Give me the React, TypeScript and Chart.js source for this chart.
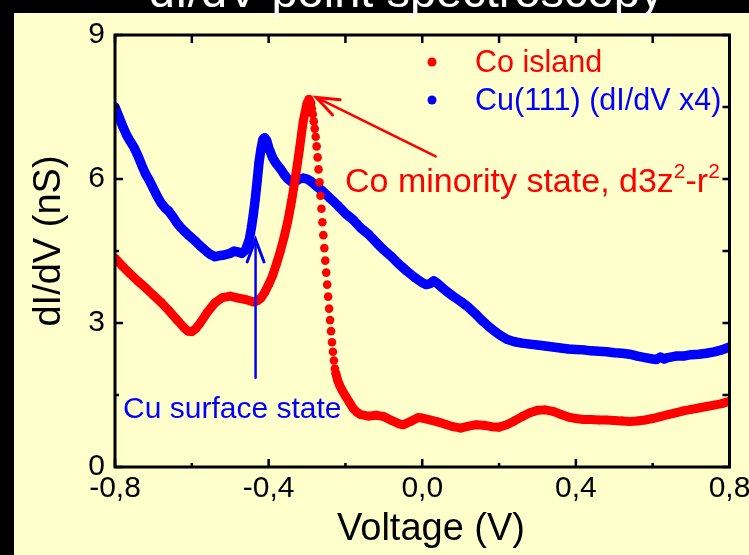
import React, { useEffect, useRef } from "react";
import { Chart, registerables } from "chart.js";

Chart.register(...registerables);

// ---------- data ----------
const coLabel = "Co island";
const coVoltage = [
  -0.80, -0.78, -0.76, -0.74, -0.72, -0.70, -0.68, -0.66, -0.64, -0.62, -0.61, -0.60, -0.59, -0.58, -0.56,
  -0.54, -0.52, -0.50, -0.48, -0.46, -0.44, -0.43, -0.42, -0.41, -0.40, -0.39, -0.38, -0.37, -0.36, -0.35,
  -0.34, -0.33, -0.32, -0.31, -0.30, -0.295, -0.29,
  -0.2875, -0.285, -0.2825, -0.28, -0.2775, -0.275, -0.2725, -0.27, -0.2675, -0.265, -0.2625, -0.26, -0.2575,
  -0.255, -0.2525, -0.25, -0.2475, -0.245, -0.2425, -0.24, -0.2375, -0.235, -0.2325, -0.23, -0.2275, -0.225,
  -0.22, -0.215, -0.21, -0.20, -0.19, -0.18, -0.17, -0.16, -0.14, -0.12, -0.10, -0.08, -0.06, -0.05, -0.03,
  -0.01, 0.00, 0.02, 0.04, 0.06, 0.08, 0.10, 0.12, 0.14, 0.16, 0.18, 0.20, 0.22, 0.24, 0.26, 0.28, 0.30,
  0.32, 0.34, 0.36, 0.38, 0.40, 0.42, 0.44, 0.46, 0.48, 0.50, 0.52, 0.54, 0.56, 0.58, 0.60, 0.62, 0.64,
  0.66, 0.68, 0.70, 0.72, 0.74, 0.76, 0.78, 0.80,
];
const coDidv = [
  4.35, 4.18, 4.02, 3.87, 3.73, 3.58, 3.43, 3.26, 3.08, 2.90, 2.83, 2.82, 2.88, 2.98, 3.22,
  3.42, 3.53, 3.56, 3.52, 3.49, 3.44, 3.46, 3.52, 3.64, 3.80, 3.98, 4.22, 4.48, 4.78, 5.12,
  5.55, 6.05, 6.60, 7.20, 7.58, 7.66, 7.58,
  7.47, 7.35, 7.20, 7.05, 6.88, 6.68, 6.45, 6.20, 5.93, 5.65, 5.38, 5.10, 4.83,
  4.56, 4.30, 4.05, 3.80, 3.55, 3.30, 3.06, 2.83, 2.60, 2.40, 2.22, 2.05, 1.95,
  1.80, 1.70, 1.62, 1.48, 1.35, 1.22, 1.14, 1.09, 1.06, 1.08, 1.05, 0.97, 0.90, 0.88, 0.95,
  1.03, 1.02, 0.98, 0.94, 0.89, 0.84, 0.81, 0.85, 0.88, 0.87, 0.84, 0.83, 0.88, 0.96, 1.05, 1.13, 1.18,
  1.19, 1.16, 1.10, 1.04, 1.01, 0.99, 0.99, 0.98, 0.98, 0.97, 0.96, 0.95, 0.96, 0.98, 1.01, 1.05, 1.09,
  1.13, 1.17, 1.20, 1.23, 1.26, 1.29, 1.32, 1.37,
];

const cuLabel = "Cu(111) (dI/dV x4)";
const cuVoltage = [
  -0.80, -0.79, -0.78, -0.77, -0.76, -0.75, -0.74, -0.73, -0.72, -0.71, -0.70, -0.69, -0.68, -0.67, -0.66,
  -0.65, -0.64, -0.63, -0.62, -0.61, -0.60, -0.59, -0.58, -0.57, -0.56, -0.55, -0.54, -0.53, -0.52, -0.51,
  -0.50, -0.49, -0.48, -0.47, -0.46, -0.45, -0.445, -0.44, -0.435, -0.43, -0.425, -0.42, -0.415, -0.41,
  -0.405, -0.40, -0.39, -0.38, -0.37, -0.36, -0.35, -0.34, -0.33, -0.32, -0.31, -0.30, -0.29, -0.28, -0.26,
  -0.24, -0.22, -0.20, -0.18, -0.16, -0.14, -0.12, -0.10, -0.08, -0.06, -0.04, -0.02, 0.00, 0.01, 0.02,
  0.03, 0.04, 0.06, 0.08, 0.10, 0.12, 0.14, 0.16, 0.18, 0.20, 0.22, 0.24, 0.26, 0.28, 0.30, 0.32, 0.34,
  0.36, 0.38, 0.40, 0.42, 0.44, 0.46, 0.48, 0.50, 0.52, 0.54, 0.56, 0.58, 0.60, 0.61, 0.62, 0.63, 0.64,
  0.66, 0.68, 0.70, 0.72, 0.74, 0.76, 0.78, 0.80,
];
const cuDidv = [
  7.50, 7.30, 7.10, 6.92, 6.78, 6.65, 6.48, 6.28, 6.10, 5.96, 5.80, 5.64, 5.50, 5.40, 5.33,
  5.22, 5.10, 5.00, 4.92, 4.84, 4.77, 4.70, 4.62, 4.55, 4.48, 4.42, 4.38, 4.40, 4.41, 4.43,
  4.45, 4.50, 4.48, 4.45, 4.52, 4.75, 4.98, 5.25, 5.57, 5.95, 6.35, 6.62, 6.82, 6.86,
  6.80, 6.66, 6.45, 6.32, 6.22, 6.10, 6.00, 5.94, 5.95, 6.00, 6.02, 6.00, 5.95, 5.88, 5.75,
  5.60, 5.45, 5.28, 5.15, 4.98, 4.85, 4.68, 4.52, 4.38, 4.22, 4.08, 3.95, 3.84, 3.80, 3.82,
  3.88, 3.82, 3.68, 3.56, 3.45, 3.33, 3.18, 3.02, 2.88, 2.76, 2.66, 2.61, 2.58, 2.56, 2.54, 2.52, 2.50,
  2.48, 2.46, 2.45, 2.44, 2.42, 2.41, 2.40, 2.38, 2.37, 2.35, 2.31, 2.28, 2.25, 2.24, 2.29, 2.25, 2.28,
  2.31, 2.31, 2.34, 2.35, 2.37, 2.40, 2.44, 2.50,
];

const xMin = -0.8;
const xMax = 0.8;
const xStep = 0.4;
const yMin = 0;
const yMax = 9;
const yStep = 3;

const chartTitle = "dI/dV point spectroscopy";
const xTitle = "Voltage (V)";
const yTitle = "dI/dV (nS)";

// annotation anchors in data units
const coArrowFrom = [0.035, 6.47];
const coArrowTo = [-0.276, 7.7];
const coNoteAt = [-0.201, 5.72];
const cuArrowFrom = [-0.434, 1.86];
const cuArrowTo = [-0.434, 4.74];
const cuNoteAt = [-0.779, 1.02];
const dottedRange = [-0.29, -0.225];

// ---------- styles ----------
const RED = "#ff0000";
const BLUE = "#0000ff";
const BG = "#ffffcc";
const FONT = "'Liberation Sans', Arial, Helvetica, sans-serif";

function fmtX(v: number) {
  return (Math.round(v * 10) / 10).toFixed(1).replace(".", ",");
}

function arrow(ctx: CanvasRenderingContext2D, x0: number, y0: number, x1: number, y1: number, color: string) {
  const ang = Math.atan2(y0 - y1, x0 - x1);
  const len = 24;
  const spread = 0.36;
  ctx.save();
  ctx.strokeStyle = color;
  ctx.lineCap = "round";
  ctx.lineWidth = 2.5;
  ctx.beginPath();
  ctx.moveTo(x0, y0);
  ctx.lineTo(x1, y1);
  ctx.stroke();
  ctx.lineWidth = 3;
  ctx.beginPath();
  ctx.moveTo(x1 + len * Math.cos(ang + spread), y1 + len * Math.sin(ang + spread));
  ctx.lineTo(x1, y1);
  ctx.lineTo(x1 + len * Math.cos(ang - spread), y1 + len * Math.sin(ang - spread));
  ctx.stroke();
  ctx.restore();
}

const decor = {
  id: "decor",
  beforeDraw(chart: any) {
    const { ctx, width, height } = chart;
    ctx.save();
    ctx.fillStyle = "#000";
    ctx.fillRect(0, 0, width, height);
    ctx.fillStyle = BG;
    ctx.fillRect(14, 13, width - 14, height - 13);
    ctx.restore();
  },
  afterDatasetsDraw(chart: any) {
    const { ctx, chartArea: a, scales } = chart;
    const xs = scales.x;
    const ys = scales.y;
    const px = (v: number) => xs.getPixelForValue(v);
    const py = (v: number) => ys.getPixelForValue(v);
    ctx.save();
    // frame
    ctx.strokeStyle = "#000";
    ctx.lineWidth = 3;
    ctx.strokeRect(a.left, a.top, a.right - a.left, a.bottom - a.top);
    // ticks
    ctx.lineWidth = 2.5;
    const xt = xs.ticks.map((t: any) => t.value);
    const yt = ys.ticks.map((t: any) => t.value);
    const xMinor: number[] = [];
    for (let i = 0; i < xt.length - 1; i++) xMinor.push((xt[i] + xt[i + 1]) / 2);
    const yMinor: number[] = [];
    for (let i = 0; i < yt.length - 1; i++) yMinor.push((yt[i] + yt[i + 1]) / 2);
    ctx.beginPath();
    xt.forEach((v: number) => {
      const x = px(v);
      ctx.moveTo(x, a.bottom); ctx.lineTo(x, a.bottom - 8);
      ctx.moveTo(x, a.top); ctx.lineTo(x, a.top + 8);
    });
    xMinor.forEach((v) => {
      const x = px(v);
      ctx.moveTo(x, a.bottom); ctx.lineTo(x, a.bottom - 4);
      ctx.moveTo(x, a.top); ctx.lineTo(x, a.top + 8);
    });
    yt.forEach((v: number) => {
      const y = py(v);
      ctx.moveTo(a.left, y); ctx.lineTo(a.left + 8, y);
      ctx.moveTo(a.right, y); ctx.lineTo(a.right - 7, y);
    });
    yMinor.forEach((v) => {
      const y = py(v);
      ctx.moveTo(a.left, y); ctx.lineTo(a.left + 4, y);
      ctx.moveTo(a.right, y); ctx.lineTo(a.right - 7, y);
    });
    ctx.stroke();

    // axis titles
    ctx.fillStyle = "#000";
    ctx.font = `38px ${FONT}`;
    ctx.textAlign = "center";
    ctx.textBaseline = "alphabetic";
    ctx.fillText(xTitle, 431, 540);
    ctx.save();
    ctx.translate(60, 241);
    ctx.rotate(-Math.PI / 2);
    ctx.fillText(yTitle, 0, 0);
    ctx.restore();

    // chart title (cut off at top)
    ctx.fillStyle = "#fff";
    ctx.font = `47px ${FONT}`;
    ctx.fillText(chartTitle, 406, 7);

    // legend
    ctx.textAlign = "left";
    ctx.font = `30.5px ${FONT}`;
    chart.data.datasets.forEach((ds: any, i: number) => {
      const cy = 62 + i * 38;
      ctx.fillStyle = ds.pointBackgroundColor;
      ctx.beginPath();
      ctx.arc(432, cy, 4.5, 0, Math.PI * 2);
      ctx.fill();
      ctx.fillText(ds.label, 475, cy + 10);
    });

    // Co annotation
    arrow(ctx, px(coArrowFrom[0]), py(coArrowFrom[1]), px(coArrowTo[0]), py(coArrowTo[1]), RED);
    ctx.fillStyle = RED;
    let tx = px(coNoteAt[0]);
    const ty = py(coNoteAt[1]);
    const parts: [string, boolean][] = [["Co minority state, d3z", false], ["2", true], ["-r", false], ["2", true]];
    parts.forEach(([s, sup]) => {
      ctx.font = sup ? `21px ${FONT}` : `34px ${FONT}`;
      ctx.fillText(s, tx, sup ? ty - 14 : ty);
      tx += ctx.measureText(s).width;
    });

    // Cu annotation
    arrow(ctx, px(cuArrowFrom[0]), py(cuArrowFrom[1]), px(cuArrowTo[0]), py(cuArrowTo[1]), BLUE);
    ctx.fillStyle = BLUE;
    ctx.font = `30px ${FONT}`;
    ctx.fillText("Cu surface state", px(cuNoteAt[0]), py(cuNoteAt[1]));
    ctx.restore();
  },
};

export default function App() {
  const ref = useRef<HTMLCanvasElement>(null);
  useEffect(() => {
    if (!ref.current) return;
    const toPts = (xs: number[], ys: number[]) => xs.map((x, i) => ({ x, y: ys[i] }));
    const chart = new Chart(ref.current, {
      type: "scatter",
      data: {
        datasets: [
          {
            label: coLabel,
            data: toPts(coVoltage, coDidv),
            showLine: true,
            borderColor: RED,
            backgroundColor: RED,
            pointBackgroundColor: RED,
            pointBorderWidth: 0,
            pointRadius: 4.3,
            borderWidth: 9,
            borderCapStyle: "round",
            borderJoinStyle: "round",
            segment: {
              borderColor: (c: any) =>
                c.p0.parsed.x >= dottedRange[0] && c.p1.parsed.x <= dottedRange[1] ? "rgba(0,0,0,0)" : RED,
            },
          } as any,
          {
            label: cuLabel,
            data: toPts(cuVoltage, cuDidv),
            showLine: true,
            borderColor: BLUE,
            backgroundColor: BLUE,
            pointBackgroundColor: BLUE,
            pointBorderWidth: 0,
            pointRadius: 4.3,
            borderWidth: 9.5,
            borderCapStyle: "round",
            borderJoinStyle: "round",
          } as any,
        ],
      },
      options: {
        animation: false,
        responsive: false,
        maintainAspectRatio: false,
        devicePixelRatio: 1,
        layout: { padding: { left: 0, right: 19.5, top: 35, bottom: 0 } },
        plugins: { legend: { display: false }, tooltip: { enabled: false }, title: { display: false } },
        scales: {
          x: {
            type: "linear",
            min: xMin,
            max: xMax,
            ticks: {
              stepSize: xStep,
              autoSkip: false,
              maxRotation: 0,
              padding: 4,
              color: "#000",
              font: { size: 30, family: FONT },
              callback: (v: any) => fmtX(Number(v)),
            },
            grid: { display: false, drawTicks: false },
            border: { display: false },
            afterFit: (s: any) => {
              s.height = 88;
              s.paddingLeft = 0;
              s.paddingRight = 0;
            },
          },
          y: {
            type: "linear",
            min: yMin,
            max: yMax,
            ticks: {
              stepSize: yStep,
              padding: 10,
              color: "#000",
              font: { size: 30, family: FONT },
            },
            grid: { display: false, drawTicks: false },
            border: { display: false },
            afterFit: (s: any) => {
              s.width = 115;
              s.paddingTop = 0;
              s.paddingBottom = 0;
            },
          },
        },
      } as any,
      plugins: [decor],
    });
    return () => chart.destroy();
  }, []);
  return (
    <div style={{ position: "fixed", left: 0, top: 0, width: 749, height: 555 }}>
      <canvas ref={ref} width={749} height={555} style={{ display: "block", width: 749, height: 555 }} />
    </div>
  );
}
